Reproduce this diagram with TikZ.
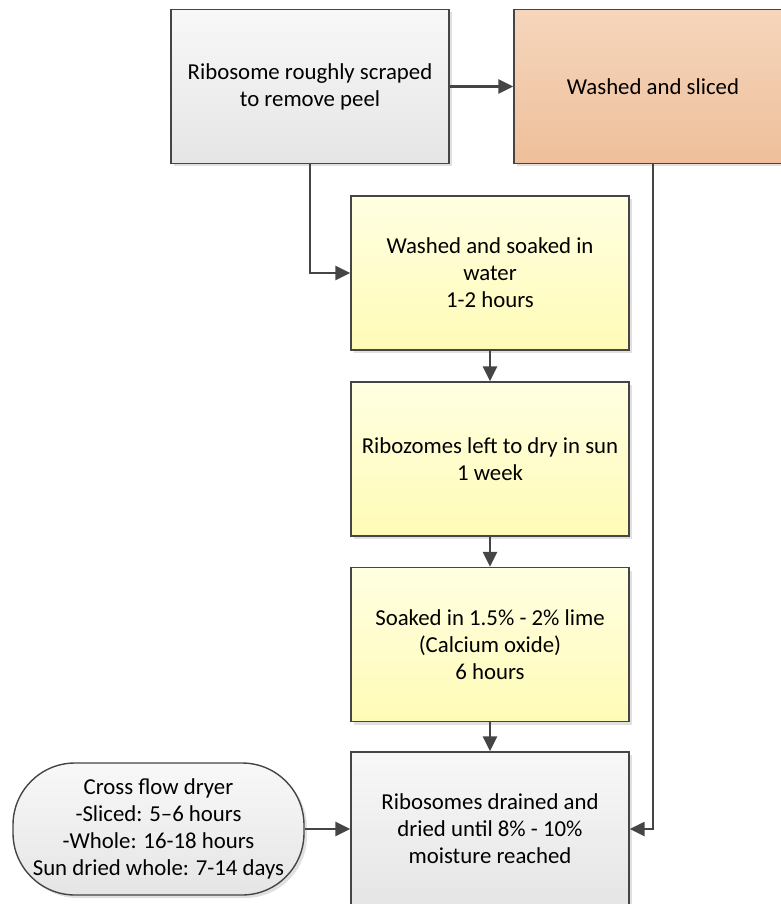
\documentclass[tikz,border=0pt]{standalone}
\usepackage{fontspec}
\setmainfont{Carlito}
\usetikzlibrary{arrows.meta,shadows}

\definecolor{peeltop}{HTML}{F5D6BC}
\definecolor{peelbot}{HTML}{EFBF9A}
\definecolor{soaktop}{HTML}{FFFFE2}
\definecolor{soakbot}{HTML}{FFFBB6}
\definecolor{greytop}{HTML}{F8F8F8}
\definecolor{greybot}{HTML}{E5E5E5}
\definecolor{edge}{HTML}{454545}

\begin{document}
\begin{tikzpicture}[x=1pt,y=1pt,
            every node/.style={font=\fontsize{22.8}{27}\selectfont, align=center},
            stage/.style={draw=edge, line width=1.4pt, minimum width=278pt, minimum height=154pt, inner sep=0pt,
                drop shadow={shadow xshift=3pt, shadow yshift=-3pt, fill=black!12, opacity=1}},
            greybox/.style={stage, top color=greytop, bottom color=greybot},
            peelbox/.style={stage, top color=peeltop, bottom color=peelbot},
            soakbox/.style={stage, top color=soaktop, bottom color=soakbot},
            dryerbox/.style={greybox, minimum width=291pt, minimum height=132pt, rounded corners=62pt},
            flow/.style={draw=edge, line width=2.5pt, -{Triangle[length=15pt,width=14pt]}}]

            \useasboundingbox (0,0) rectangle (780,-904);

            \node[greybox] (scrape) at (310,-86.5) {Ribosome roughly scraped\\to remove peel};
            \node[peelbox] (slice) at (653,-86.5) {Washed and sliced};
            \node[soakbox] (soak) at (490,-273) {Washed and soaked in\\water\\1-2 hours};
            \node[soakbox] (sundry) at (490,-459) {Ribozomes left to dry in sun\\1 week};
            \node[soakbox] (lime) at (490,-644.5) {Soaked in 1.5\% - 2\% lime\\(Calcium oxide)\\6 hours};
            \node[greybox] (drain) at (490,-829) {Ribosomes drained and\\dried until 8\% - 10\%\\moisture reached};
            \node[dryerbox] (dryer) at (158.5,-829) {Cross flow dryer\\-Sliced: 5--6 hours\\-Whole: 16-18 hours\\Sun dried whole: 7-14 days};

            \draw[flow] (scrape) -- (slice);
            \draw[flow] (scrape) |- (soak);
            \draw[flow] (soak) -- (sundry);
            \draw[flow] (sundry) -- (lime);
            \draw[flow] (lime) -- (drain);
            \draw[flow] (slice) |- (drain);
            \draw[flow] (dryer) -- (drain);
        \end{tikzpicture}
\end{document}
